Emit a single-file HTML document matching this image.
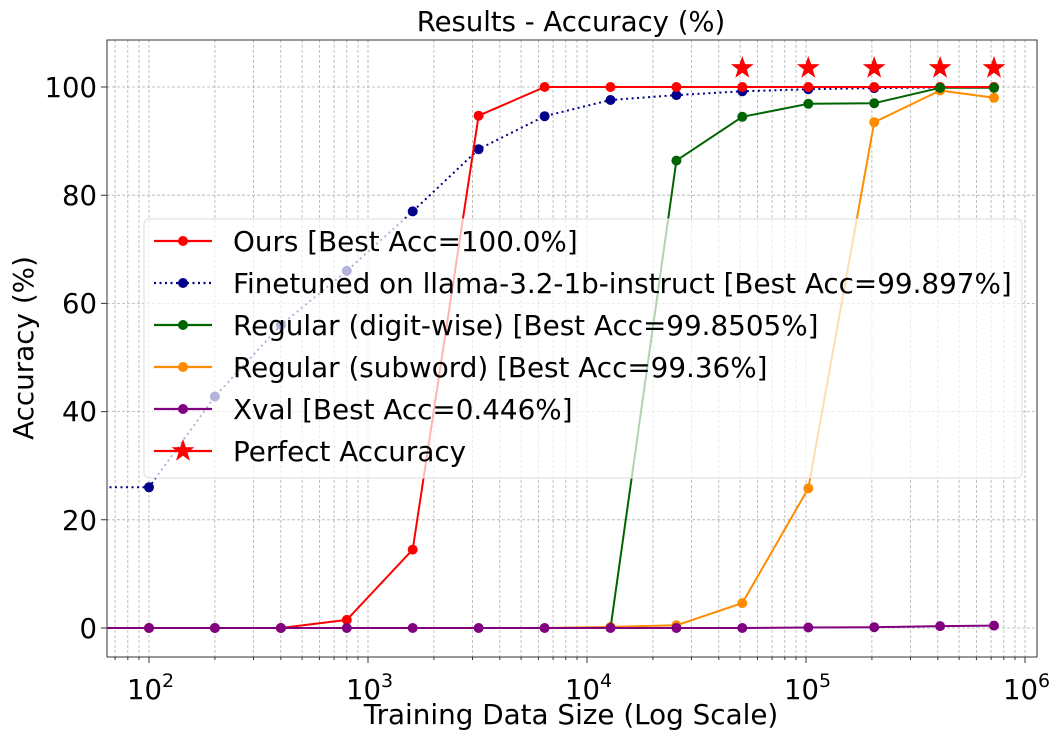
<!DOCTYPE html>
<html><head><meta charset="utf-8"><style>
html,body{margin:0;padding:0;background:#fff;}
svg{display:block;font-family:"DejaVu Sans","Liberation Sans",sans-serif;}
</style></head><body>
<svg width="1059" height="739" viewBox="0 0 1059 739" xmlns="http://www.w3.org/2000/svg">
<defs><clipPath id="c"><rect x="107" y="40" width="930" height="617"/></clipPath></defs>
<g id="grid" stroke="#b0b0b0" stroke-width="0.8" stroke-dasharray="3,2" fill="none">
<path d="M149,40V657M368,40V657M587,40V657M806,40V657M1025,40V657
M115.1,40V657M127.8,40V657M139,40V657
M214.9,40V657M253.5,40V657M280.8,40V657M302.1,40V657M319.4,40V657M334.1,40V657M346.8,40V657M358,40V657
M433.9,40V657M472.5,40V657M499.8,40V657M521.1,40V657M538.4,40V657M553.1,40V657M565.8,40V657M577,40V657
M652.9,40V657M691.5,40V657M718.8,40V657M740.1,40V657M757.4,40V657M772.1,40V657M784.8,40V657M796,40V657
M871.9,40V657M910.5,40V657M937.8,40V657M959.1,40V657M976.4,40V657M991.1,40V657M1003.8,40V657M1015,40V657"/>
<path d="M107,628H1037M107,519.8H1037M107,411.6H1037M107,303.4H1037M107,195.2H1037M107,87H1037"/>
</g>
<g clip-path="url(#c)" stroke-linejoin="round">
<polyline fill="none" stroke="#00008b" stroke-width="2" stroke-dasharray="2,3.5" points="60,487.3 149,487.3 214.9,396.5 280.9,325 346.8,270.9 412.7,211.4 478.6,149.2 544.6,116.2 610.5,100 676.4,95.1 742.3,91.3 808.3,89.2 874.2,88.1 940.1,87.5 994,87.5"/>
<g fill="#00008b"><circle cx="149" cy="487.3" r="5"/><circle cx="214.9" cy="396.5" r="5"/><circle cx="280.9" cy="325" r="5"/><circle cx="346.8" cy="270.9" r="5"/><circle cx="412.7" cy="211.4" r="5"/><circle cx="478.6" cy="149.2" r="5"/><circle cx="544.6" cy="116.2" r="5"/><circle cx="610.5" cy="100" r="5"/><circle cx="676.4" cy="95.1" r="5"/><circle cx="742.3" cy="91.3" r="5"/><circle cx="808.3" cy="89.2" r="5"/><circle cx="874.2" cy="88.1" r="5"/><circle cx="940.1" cy="87.5" r="5"/><circle cx="994" cy="87.5" r="5"/></g>
<polyline fill="none" stroke="#ff8c00" stroke-width="2" points="60,628 149,628 214.9,628 280.9,628 346.8,628 412.7,628 478.6,628 544.6,628 610.5,626.9 676.4,625.3 742.3,603.1 808.3,488.4 874.2,122.2 940.1,90.5 994,97.8"/>
<g fill="#ff8c00"><circle cx="610.5" cy="626.9" r="5"/><circle cx="676.4" cy="625.3" r="5"/><circle cx="742.3" cy="603.1" r="5"/><circle cx="808.3" cy="488.4" r="5"/><circle cx="874.2" cy="122.2" r="5"/><circle cx="940.1" cy="90.5" r="5"/><circle cx="994" cy="97.8" r="5"/></g>
<polyline fill="none" stroke="#006400" stroke-width="2" points="60,628 149,628 214.9,628 280.9,628 346.8,628 412.7,628 478.6,628 544.6,628 610.5,628 676.4,160.6 742.3,116.8 808.3,103.8 874.2,103.2 940.1,87.8 994,87.8"/>
<g fill="#006400"><circle cx="676.4" cy="160.6" r="5"/><circle cx="742.3" cy="116.8" r="5"/><circle cx="808.3" cy="103.8" r="5"/><circle cx="874.2" cy="103.2" r="5"/><circle cx="940.1" cy="87.8" r="5"/><circle cx="994" cy="87.8" r="5"/></g>
<polyline fill="none" stroke="#ff0000" stroke-width="2" points="60,628 149,628 214.9,628 280.9,628 346.8,619.9 412.7,549.6 478.6,115.7 544.6,87 610.5,87 676.4,87 742.3,87 808.3,87 874.2,87 940.1,87 994,87"/>
<g fill="#ff0000"><circle cx="149" cy="628" r="5"/><circle cx="214.9" cy="628" r="5"/><circle cx="280.9" cy="628" r="5"/><circle cx="346.8" cy="619.9" r="5"/><circle cx="412.7" cy="549.6" r="5"/><circle cx="478.6" cy="115.7" r="5"/><circle cx="544.6" cy="87" r="5"/><circle cx="610.5" cy="87" r="5"/><circle cx="676.4" cy="87" r="5"/><circle cx="742.3" cy="87" r="5"/><circle cx="808.3" cy="87" r="5"/><circle cx="874.2" cy="87" r="5"/><circle cx="940.1" cy="87" r="5"/><circle cx="994" cy="87" r="5"/></g>
<g fill="#006400"><circle cx="940.1" cy="87.8" r="5"/><circle cx="994" cy="87.8" r="5"/></g>
<polyline fill="none" stroke="#800080" stroke-width="2" points="60,628 149,628 214.9,628 280.9,628 346.8,628 412.7,628 478.6,628 544.6,628 610.5,628 676.4,628 742.3,628 808.3,627.5 874.2,627.2 940.1,626.1 994,625.6"/>
<g fill="#800080"><circle cx="149" cy="628" r="5"/><circle cx="214.9" cy="628" r="5"/><circle cx="280.9" cy="628" r="5"/><circle cx="346.8" cy="628" r="5"/><circle cx="412.7" cy="628" r="5"/><circle cx="478.6" cy="628" r="5"/><circle cx="544.6" cy="628" r="5"/><circle cx="610.5" cy="628" r="5"/><circle cx="676.4" cy="628" r="5"/><circle cx="742.3" cy="628" r="5"/><circle cx="808.3" cy="627.5" r="5"/><circle cx="874.2" cy="627.2" r="5"/><circle cx="940.1" cy="626.1" r="5"/><circle cx="994" cy="625.6" r="5"/></g>
<g fill="#ff0000">
<path transform="translate(742.3,68)" d="M0,-12 L2.8,-3.9 11.4,-3.7 4.5,1.5 7,9.7 0,4.8 -7,9.7 -4.5,1.5 -11.4,-3.7 -2.8,-3.9Z"/>
<path transform="translate(808.3,68)" d="M0,-12 L2.8,-3.9 11.4,-3.7 4.5,1.5 7,9.7 0,4.8 -7,9.7 -4.5,1.5 -11.4,-3.7 -2.8,-3.9Z"/>
<path transform="translate(874.2,68)" d="M0,-12 L2.8,-3.9 11.4,-3.7 4.5,1.5 7,9.7 0,4.8 -7,9.7 -4.5,1.5 -11.4,-3.7 -2.8,-3.9Z"/>
<path transform="translate(940.1,68)" d="M0,-12 L2.8,-3.9 11.4,-3.7 4.5,1.5 7,9.7 0,4.8 -7,9.7 -4.5,1.5 -11.4,-3.7 -2.8,-3.9Z"/>
<path transform="translate(994,68)" d="M0,-12 L2.8,-3.9 11.4,-3.7 4.5,1.5 7,9.7 0,4.8 -7,9.7 -4.5,1.5 -11.4,-3.7 -2.8,-3.9Z"/>
</g>
</g>
<rect x="144" y="219" width="878" height="259" rx="5" fill="#fff" fill-opacity="0.7" stroke="#ddd" stroke-width="1"/>
<g stroke-width="2.2">
<line x1="154" y1="241" x2="212" y2="241" stroke="#ff0000"/><circle cx="183" cy="241" r="5" fill="#ff0000"/>
<line x1="154" y1="283" x2="212" y2="283" stroke="#00008b" stroke-dasharray="2,3.5"/><circle cx="183" cy="283" r="5" fill="#00008b"/>
<line x1="154" y1="325" x2="212" y2="325" stroke="#006400"/><circle cx="183" cy="325" r="5" fill="#006400"/>
<line x1="154" y1="367" x2="212" y2="367" stroke="#ff8c00"/><circle cx="183" cy="367" r="5" fill="#ff8c00"/>
<line x1="154" y1="409" x2="212" y2="409" stroke="#800080"/><circle cx="183" cy="409" r="5" fill="#800080"/>
<line x1="154" y1="451" x2="212" y2="451" stroke="#ff0000"/>
<path transform="translate(183,451)" fill="#ff0000" d="M0,-12 L2.8,-3.9 11.4,-3.7 4.5,1.5 7,9.7 0,4.8 -7,9.7 -4.5,1.5 -11.4,-3.7 -2.8,-3.9Z"/>
</g>
<g font-size="27.8" fill="#000">
<text x="233" y="251">Ours [Best Acc=100.0%]</text>
<text x="233" y="293">Finetuned on llama-3.2-1b-instruct [Best Acc=99.897%]</text>
<text x="233" y="335">Regular (digit-wise) [Best Acc=99.8505%]</text>
<text x="233" y="377">Regular (subword) [Best Acc=99.36%]</text>
<text x="233" y="419">Xval [Best Acc=0.446%]</text>
<text x="233" y="461">Perfect Accuracy</text>
</g>
<rect x="107" y="40" width="930" height="617" fill="none" stroke="#333" stroke-width="1"/>
<g stroke="#333" stroke-width="1">
<path d="M149,657v6M368,657v6M587,657v6M806,657v6M1025,657v6"/>
<path d="M115.1,657v3M127.8,657v3M139,657v3M214.9,657v3M253.5,657v3M280.8,657v3M302.1,657v3M319.4,657v3M334.1,657v3M346.8,657v3M358,657v3M433.9,657v3M472.5,657v3M499.8,657v3M521.1,657v3M538.4,657v3M553.1,657v3M565.8,657v3M577,657v3M652.9,657v3M691.5,657v3M718.8,657v3M740.1,657v3M757.4,657v3M772.1,657v3M784.8,657v3M796,657v3M871.9,657v3M910.5,657v3M937.8,657v3M959.1,657v3M976.4,657v3M991.1,657v3M1003.8,657v3M1015,657v3"/>
<path d="M107,628h-6M107,519.8h-6M107,411.6h-6M107,303.4h-6M107,195.2h-6M107,87h-6"/>
</g>
<g font-size="27.5" fill="#000" text-anchor="end">
<text x="97" y="638">0</text><text x="97" y="530">20</text><text x="97" y="421">40</text><text x="97" y="313">60</text><text x="97" y="205">80</text><text x="97" y="97">100</text>
</g>
<g font-size="27.5" fill="#000">
<text x="127" y="699">10<tspan font-size="19" dy="-12">2</tspan></text>
<text x="346" y="699">10<tspan font-size="19" dy="-12">3</tspan></text>
<text x="565" y="699">10<tspan font-size="19" dy="-12">4</tspan></text>
<text x="784" y="699">10<tspan font-size="19" dy="-12">5</tspan></text>
<text x="1003" y="699">10<tspan font-size="19" dy="-12">6</tspan></text>
</g>
<text x="571" y="724" font-size="27.8" text-anchor="middle">Training Data Size (Log Scale)</text>
<text x="571" y="31" font-size="27.5" text-anchor="middle">Results - Accuracy (%)</text>
<text transform="translate(33,348) rotate(-90)" font-size="27.8" text-anchor="middle">Accuracy (%)</text>
</svg>
</body></html>
